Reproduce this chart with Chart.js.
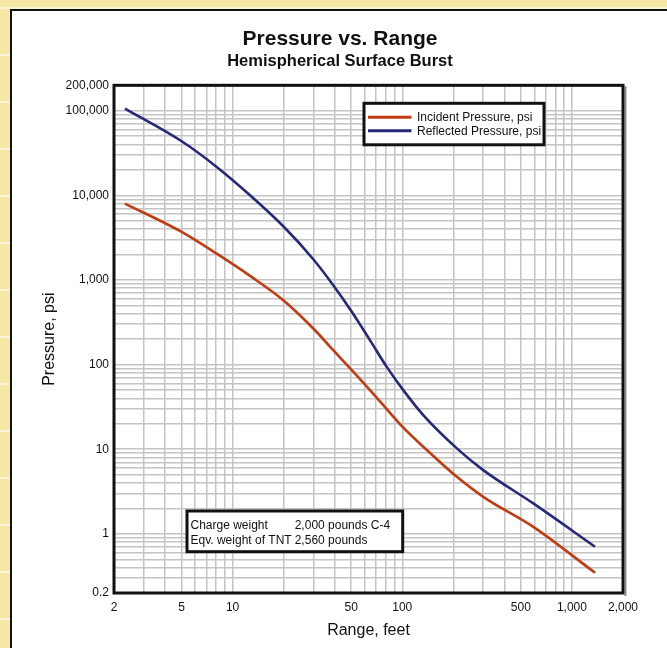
<!DOCTYPE html>
<html>
<head>
<meta charset="utf-8">
<title>Pressure vs. Range</title>
<script src="https://cdn.jsdelivr.net/npm/chart.js@4.4.1/dist/chart.umd.min.js"></script>
<style>
  html, body { margin: 0; padding: 0; overflow: hidden; }
  body {
    width: 667px; height: 648px;
    background-color: #f7e7a6;
    background-image: repeating-linear-gradient(180deg, #fcf5d8 0px, #fcf5d8 1.5px, transparent 1.5px, transparent 47px);
    background-position: 0 7px;
  }
  #panel {
    position: absolute; left: 10px; top: 9px; width: 720px; height: 720px;
    background: #fff; border-left: 2px solid #111; border-top: 2px solid #111;
  }
  #wrap { position: absolute; left: 0; top: 0; width: 667px; height: 648px; }
</style>
</head>
<body>
<div id="panel"></div>
<div id="wrap"><canvas id="blast-chart"></canvas></div>
<script>
// Range in feet
const rangeFeet = [2.32, 5.01, 8.06, 12.67, 19.9, 29.9, 39.2, 50.4, 64.5, 81.0, 101.4, 133, 209, 300, 592, 1368];
// Incident (side-on) pressure, psi
const incidentPsi = [8010, 3700, 2045, 1118, 577, 267, 148, 86.1, 50.0, 29.8, 18.0, 10.7, 4.75, 2.74, 1.21, 0.347];
// Reflected pressure, psi
const reflectedPsi = [106100, 43600, 21700, 10040, 4320, 1761, 868, 422, 195, 94.1, 50.0, 25.3, 10.3, 5.67, 2.29, 0.705];

const xTickLabels = [2, 5, 10, 50, 100, 500, 1000, 2000];
const yTickLabels = [0.2, 1, 10, 100, 1000, 10000, 100000, 200000];
const noteLines = [["Charge weight", "2,000 pounds C-4"], ["Eqv. weight of TNT", "2,560 pounds"]];

const FONT = "'Liberation Sans', Arial, Helvetica, sans-serif";

// log grid: 1..9 of every decade between min and max
function logGrid(min, max) {
  let out = [];
  for (let e = -1; e <= 6; e++) {
    for (let k = 1; k <= 9; k++) {
      let v = Number((k * Math.pow(10, e)).toPrecision(6));
      if (v >= min && v <= max) out.push(v);
    }
  }
  return out;
}

function fmt(v) {
  return v.toLocaleString('en-US');
}

// frame round the plot, legend box and note box
const decorations = {
  id: 'decorations',
  afterDraw(chart) {
    const ctx = chart.ctx;
    const a = chart.chartArea;
    ctx.save();

    // plot frame with a small shadow on the right
    ctx.fillStyle = '#8c8c8c';
    ctx.fillRect(a.right + 1.5, a.top + 1, 2, a.bottom - a.top + 2);
    ctx.strokeStyle = '#111';
    ctx.lineWidth = 3;
    ctx.strokeRect(a.left, a.top, a.right - a.left, a.bottom - a.top);

    ctx.font = '12px ' + FONT;
    ctx.textBaseline = 'middle';
    ctx.textAlign = 'left';

    // legend
    let lx = a.left + 250, ly = a.top + 18;
    ctx.fillStyle = '#fff';
    ctx.fillRect(lx, ly, 180, 41.5);
    ctx.lineWidth = 3;
    ctx.strokeStyle = '#111';
    ctx.strokeRect(lx, ly, 180, 41.5);
    chart.data.datasets.forEach(function (ds, i) {
      let y = ly + 14 + i * 13.4;
      ctx.strokeStyle = ds.borderColor;
      ctx.lineWidth = 3;
      ctx.beginPath();
      ctx.moveTo(lx + 4, y);
      ctx.lineTo(lx + 47.5, y);
      ctx.stroke();
      ctx.fillStyle = '#111';
      ctx.fillText(ds.label, lx + 53, y + 0.5);
    });

    // charge note
    let nx = a.left + 73, ny = a.bottom - 82;
    ctx.fillStyle = '#fff';
    ctx.fillRect(nx, ny, 215.7, 40.7);
    ctx.strokeStyle = '#111';
    ctx.lineWidth = 3;
    ctx.strokeRect(nx, ny, 215.7, 40.7);
    ctx.fillStyle = '#111';
    for (let i = 0; i < noteLines.length; i++) {
      ctx.fillText(noteLines[i][0], nx + 3.5, ny + 15 + i * 14.7);
      ctx.fillText(noteLines[i][1], nx + 107.7, ny + 15 + i * 14.7);
    }
    ctx.restore();
  }
};

document.addEventListener("DOMContentLoaded", function () {
  const canvas = document.getElementById('blast-chart');

  new Chart(canvas, {
    type: 'line',
    data: {
      labels: rangeFeet,
      datasets: [{
        label: "Incident Pressure, psi",
        data: rangeFeet.map((x, i) => ({ x: x, y: incidentPsi[i] })),
        borderColor: '#c23b12',
        borderWidth: 2.6,
        pointRadius: 0,
        cubicInterpolationMode: 'monotone',
        fill: false
      }, {
        label: "Reflected Pressure, psi",
        data: rangeFeet.map((x, i) => ({ x: x, y: reflectedPsi[i] })),
        borderColor: '#27287b',
        borderWidth: 2.6,
        pointRadius: 0,
        cubicInterpolationMode: 'monotone',
        fill: false
      }]
    },
    options: {
      responsive: true,
      maintainAspectRatio: false,
      animation: false,
      events: [],
      // left padding keeps the titles centred on the white panel
      layout: { padding: { left: 57, right: 44, top: 0, bottom: 0 } },
      plugins: {
        legend: { display: false },
        tooltip: { enabled: false },
        title: {
          display: true,
          text: 'Pressure vs. Range',
          color: '#111',
          font: { family: FONT, size: 21, weight: 'bold', lineHeight: 1.2 },
          padding: { top: 26.5, bottom: 0 }
        },
        subtitle: {
          display: true,
          text: 'Hemispherical Surface Burst',
          color: '#111',
          font: { family: FONT, size: 16.5, weight: 'bold', lineHeight: 1.2 },
          padding: { top: 0, bottom: 13.8 }
        }
      },
      scales: {
        x: {
          type: 'logarithmic',
          min: 2,
          max: 2000,
          afterBuildTicks: function (scale) {
            scale.ticks = logGrid(2, 2000).map(v => ({ value: v }));
          },
          afterFit: function (scale) { scale.height = 55; },
          grid: { color: '#c4c4c4', lineWidth: 1.5, drawTicks: false },
          border: { display: false },
          ticks: {
            autoSkip: false,
            maxRotation: 0,
            padding: 7,
            color: '#111',
            font: { family: FONT, size: 12 },
            callback: function (value) {
              return xTickLabels.includes(value) ? fmt(value) : '';
            }
          },
          title: {
            display: true,
            text: 'Range, feet',
            color: '#111',
            font: { family: FONT, size: 16 },
            padding: { top: 0, bottom: 8 }
          }
        },
        y: {
          type: 'logarithmic',
          min: 0.2,
          max: 200000,
          afterBuildTicks: function (scale) {
            scale.ticks = logGrid(0.2, 200000).map(v => ({ value: v }));
          },
          afterFit: function (scale) { scale.width = 57; },
          grid: { color: '#c4c4c4', lineWidth: 1.5, drawTicks: false },
          border: { display: false },
          ticks: {
            autoSkip: false,
            padding: 5,
            color: '#111',
            font: { family: FONT, size: 12 },
            callback: function (value) {
              return yTickLabels.includes(value) ? fmt(value) : '';
            }
          },
          title: {
            display: true,
            text: 'Pressure, psi',
            color: '#111',
            font: { family: FONT, size: 16 },
            // pulled back out into the left margin
            padding: { top: -17.1, bottom: 0 }
          }
        }
      }
    },
    plugins: [decorations]
  });
});
</script>
</body>
</html>
